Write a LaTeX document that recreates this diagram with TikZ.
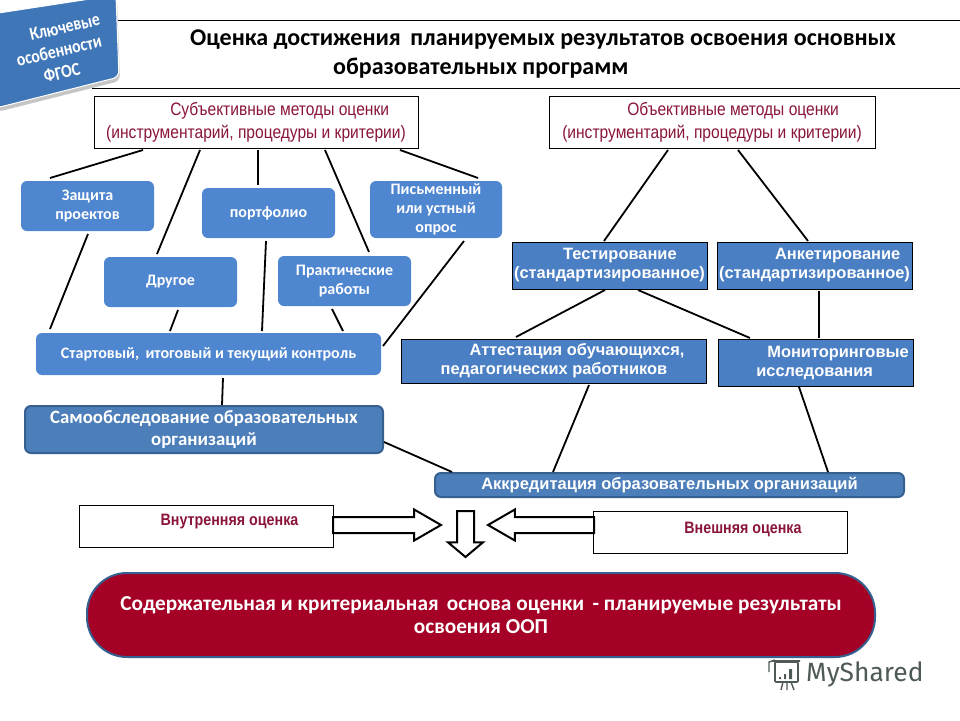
\documentclass[tikz,border=0pt]{standalone}
\usepackage{fontspec}
\setmainfont{Carlito}
\newfontfamily\arialFont{Liberation Sans}
\newfontfamily\narrowFont[FakeStretch=0.865]{Liberation Sans}
\newfontfamily\tagFont[FakeStretch=0.85]{Carlito}
\newfontfamily\logoFont{Fira Sans}
\usepackage{xcolor}
\definecolor{mainDark}{HTML}{000000}
\definecolor{boxColor}{HTML}{4F86D0}
\definecolor{rectColor}{HTML}{4A7FC4}
\definecolor{selfColor}{HTML}{4C7EBA}
\definecolor{selfEdge}{HTML}{35608F}
\definecolor{wineColor}{HTML}{A50026}
\definecolor{wineText}{HTML}{8A1538}
\definecolor{tagColor}{HTML}{3F76B8}
\definecolor{logoColor}{HTML}{4F5A58}
\usetikzlibrary{shapes,arrows,positioning,calc,arrows.meta,shapes.misc,shadows}
\tikzset{
  methodBox/.style={
    rectangle,
    draw=mainDark,
    fill=white,
    text=wineText,
    minimum width=324pt,
    minimum height=52pt,
    inner sep=0pt,
    outer sep=0pt,
    align=left,
    font=\narrowFont\fontsize{18}{23}\selectfont
 },
  roundBox/.style={
    rectangle,
    rounded corners=6pt,
    fill=boxColor,
    text=white,
    minimum width=133pt,
    minimum height=50pt,
    inner sep=0pt,
    outer sep=0pt,
    align=center,
    font=\bfseries\fontsize{16}{19}\selectfont
 },
  rectBox/.style={
    rectangle,
    draw=mainDark,
    fill=rectColor,
    text=white,
    minimum width=195pt,
    minimum height=47pt,
    inner sep=0pt,
    outer sep=0pt,
    align=left,
    font=\arialFont\bfseries\fontsize{16.4}{19}\selectfont
 },
  selfBox/.style={
    rectangle,
    rounded corners=6pt,
    draw=selfEdge,
    line width=2pt,
    fill=selfColor,
    text=white,
    inner sep=0pt,
    outer sep=0pt,
    align=center,
    font=\bfseries\fontsize{18.8}{22}\selectfont
 },
  kindBox/.style={
    rectangle,
    draw=mainDark,
    fill=white,
    text=wineText,
    minimum width=254pt,
    minimum height=42pt,
    inner sep=0pt,
    outer sep=0pt,
    font=\narrowFont\bfseries\fontsize{16.5}{18}\selectfont
 },
  hollowArrow/.style={
    single arrow,
    draw=mainDark,
    fill=white,
    line width=2pt,
    text height=14pt,
    text depth=0pt,
    single arrow head extend=7.5pt,
    single arrow tip angle=60,
    inner sep=0pt,
    outer sep=0pt
 },
  linkLine/.style={
    line width=1.8pt,
    color=mainDark
 }
}
\begin{document}
\begin{tikzpicture}[x=1pt,y=1pt]
  \useasboundingbox (0,0) rectangle (960,-720);

  \draw[line width=0.8pt] (118,-20) -- (960,-20);
  \draw[line width=0.8pt] (92,-88) -- (960,-88);

  \node[anchor=west, inner sep=0pt, font=\bfseries\fontsize{24}{27}\selectfont] (titleA) at (190,-40)
    {Оценка достижения\, планируемых результатов освоения основных};
  \node[anchor=west, inner sep=0pt, font=\bfseries\fontsize{24}{27}\selectfont] (titleB) at (333,-68)
    {образовательных программ};

  % Badge in the corner
  \path[fill=tagColor, draw=white, line width=1pt, rounded corners=6pt,
    drop shadow={shadow xshift=1pt, shadow yshift=-4pt, fill=black!45}]
    (-8,-14) -- (116,5) -- (119,-77) -- (-4,-108) -- cycle;
  \node[rotate=13, inner sep=0pt, text=white, align=center,
    font=\tagFont\bfseries\fontsize{18.5}{22}\selectfont] (tag) at (59,-51)
    {\hspace*{22pt}Ключевые\\особенности\\ФГОС\hspace*{4pt}};

  \node[methodBox, anchor=north west] (subj) at (94,-96)
    {\hspace*{64pt}Субъективные методы оценки\\(инструментарий, процедуры и критерии)};
  \node[methodBox, right=131pt of subj, minimum width=326pt] (obj)
    {\hspace*{65pt}Объективные методы оценки\\(инструментарий, процедуры и критерии)};

  \node[roundBox, below right=33pt and -73pt of subj.south west] (defence) {Защита\\проектов};
  \node[roundBox, below right=26pt and 83pt of defence.south west] (other) {Другое};
  \node[roundBox, below right=7pt and 48pt of defence.north east] (folio) {портфолио};
  \node[roundBox, below right=-7pt and 35pt of folio.north east, minimum width=132pt, minimum height=57pt] (survey) {Письменный\\или устный\\опрос};
  \node[roundBox, below right=18pt and -57pt of folio.south east] (practice) {Практические\\работы};
  \node[roundBox, below right=26pt and -68pt of other.south west, minimum width=345pt, minimum height=42pt] (control) {Стартовый,\, итоговый и текущий контроль};
  \node[selfBox, below right=31pt and -11pt of control.south west, minimum width=358pt, minimum height=47pt] (audit) {Самообследование образовательных\\организаций};

  \node[rectBox, below right=94pt and -37pt of obj.south west] (test) {\hspace*{49pt}Тестирование\\(стандартизированное)};
  \node[rectBox, right=10pt of test] (poll) {\hspace*{56pt}Анкетирование\\(стандартизированное)};
  \node[rectBox, below right=50pt and -111pt of test.south west, minimum width=305pt, minimum height=44pt] (attest) {\hspace*{47pt}Аттестация обучающихся,\\\hspace*{18pt}педагогических работников};
  \node[rectBox, below right=50pt and 1pt of poll.south west] (monitor) {\hspace*{45pt}Мониторинговые\\\hspace*{34pt}исследования};
  \node[selfBox, below right=90pt and 34pt of attest.south west, minimum width=469pt, minimum height=24pt, font=\arialFont\bfseries\fontsize{16.5}{18}\selectfont] (accred) {Аккредитация образовательных организаций};

  \node[kindBox, below right=52pt and 54pt of audit.south west] (inner) {\hspace*{47pt}\raisebox{12pt}{Внутренняя оценка}};
  \node[kindBox, below right=14pt and 158pt of accred.south west] (outer) {\hspace*{46pt}\raisebox{8pt}{Внешняя оценка}};

  \node[hollowArrow, minimum height=108pt, anchor=tail] (arrowIn) at (333,-525) {};
  \node[hollowArrow, minimum height=106pt, shape border rotate=180, anchor=tail] (arrowOut) at (594,-525) {};
  \node[hollowArrow, rotate=-90, minimum height=46pt, text height=15pt, single arrow head extend=9pt, single arrow tip angle=100, anchor=tail] (arrowDown) at (465.5,-511) {};

  \node[rectangle, rounded corners=40pt, below right=26pt and 8pt of inner.south west, minimum width=788pt, minimum height=84pt, fill=wineColor, draw=selfEdge, line width=2pt, text=white, inner sep=0pt, outer sep=0pt, align=center, font=\bfseries\fontsize{21.3}{23}\selectfont] (basis)
    {Содержательная и критериальная\, основа оценки\, - планируемые результаты\\освоения ООП};

  % Lines from the subjective methods
  \draw[linkLine] ([xshift=49pt,yshift=-2pt]subj.south west) -- ([xshift=29pt,yshift=3pt]defence.north west);
  \draw[linkLine] ([xshift=106pt,yshift=-2pt]subj.south west) -- ([xshift=53pt,yshift=3pt]other.north west);
  \draw[linkLine] ([xshift=164pt,yshift=-2pt]subj.south west) -- ([xshift=56pt,yshift=3pt]folio.north west);
  \draw[linkLine] ([xshift=231pt,yshift=-2pt]subj.south west) -- ([xshift=91pt,yshift=4pt]practice.north west);
  \draw[linkLine] ([xshift=306pt,yshift=-2pt]subj.south west) -- ([xshift=108pt,yshift=3pt]survey.north west);

  \draw[linkLine] ([xshift=67pt,yshift=-3pt]defence.south west) -- ([xshift=14pt,yshift=4pt]control.north west);
  \draw[linkLine] ([xshift=74pt,yshift=-3pt]other.south west) -- ([xshift=134pt,yshift=2pt]control.north west);
  \draw[linkLine] ([xshift=64pt,yshift=-3pt]folio.south west) -- ([xshift=226pt,yshift=2pt]control.north west);
  \draw[linkLine] ([xshift=54pt,yshift=-3pt]practice.south west) -- ([xshift=307pt,yshift=2pt]control.north west);
  \draw[linkLine] ([xshift=94pt,yshift=-3pt]survey.south west) -- ([xshift=2pt,yshift=-13pt]control.north east);
  \draw[linkLine] ([xshift=187pt,yshift=-3pt]control.south west) -- ([xshift=197pt,yshift=1pt]audit.north west);
  \draw[linkLine] ([xshift=1pt,yshift=11pt]audit.south east) -- ([xshift=17pt,yshift=1pt]accred.north west);

  % Lines from the objective methods
  \draw[linkLine] ([xshift=119pt,yshift=-2pt]obj.south west) -- ([xshift=92pt,yshift=1pt]test.north west);
  \draw[linkLine] ([xshift=189pt,yshift=-2pt]obj.south west) -- ([xshift=91pt,yshift=1pt]poll.north west);
  \draw[linkLine] ([xshift=93pt,yshift=-1pt]test.south west) -- ([xshift=115pt,yshift=2pt]attest.north west);
  \draw[linkLine] ([xshift=126pt,yshift=-1pt]test.south west) -- ([xshift=32pt,yshift=1pt]monitor.north west);
  \draw[linkLine] ([xshift=102pt,yshift=-2pt]poll.south west) -- ([xshift=101pt,yshift=1pt]monitor.north west);
  \draw[linkLine] ([xshift=188pt,yshift=-2pt]attest.south west) -- ([xshift=118pt,yshift=1pt]accred.north west);
  \draw[linkLine] ([xshift=81pt,yshift=-1pt]monitor.south west) -- ([xshift=393pt,yshift=1pt]accred.north west);

  % Site mark
  \node[anchor=west, inner sep=0pt, text=logoColor, font=\logoFont\fontsize{26.4}{30}\selectfont] (logo) at (806,-674) {MyShared};
  \draw[logoColor, line width=1.6pt, rounded corners=1pt] (772,-661) -- (800,-661) (775,-662) rectangle (798,-682);
  \draw[logoColor, line width=1.4pt] (769,-672) -- (769,-662) -- (775,-660);
  \draw[logoColor, line width=1.4pt] (783,-682) -- (781,-690) (787,-682) -- (787,-690) (791,-682) -- (794,-690);
  \fill[logoColor] (779,-677) rectangle (781,-679) (784,-674) rectangle (786,-679) (789,-669) rectangle (792,-679);
\end{tikzpicture}
\end{document}
